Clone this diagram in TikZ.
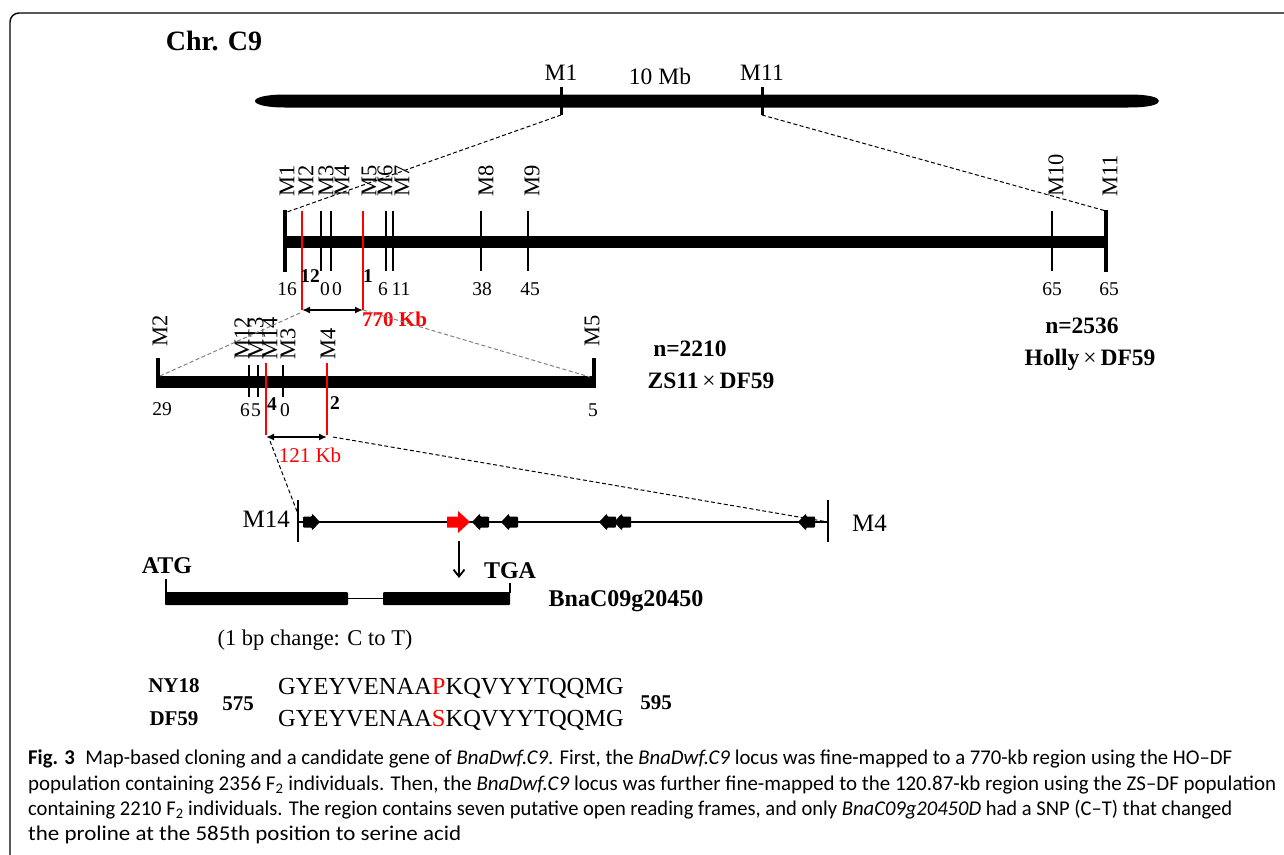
\documentclass[tikz,border=0pt]{standalone}
\usepackage{fontspec}
\setmainfont{Liberation Serif}
\newfontfamily\capfont{Carlito}
\usetikzlibrary{arrows.meta}

\newcommand{\fs}[1]{\fontsize{#1}{#1}\selectfont}

% small open reading frame, pointing left
\tikzset{orf/.pic={
  \fill[rounded corners=1pt] (-9,0) -- (-1,-8.5) -- (-1,-5.5) -- (8,-5.5) -- (8,5.5) -- (-1,5.5) -- (-1,8.5) -- cycle;
}}

\begin{document}
\begin{tikzpicture}[x=1pt, y=-1pt,
  bar/.style={line width=11.5pt},
  tick/.style={line width=2.6pt},
  endtick/.style={line width=4pt},
  redtick/.style={draw=red, line width=2.6pt},
  mk/.style={font=\fs{22.5}, rotate=90, anchor=west, inner sep=0pt},
  cmval/.style={font=\fs{19.5}, inner sep=0pt},
  hit/.style={font=\fs{19.5}\bfseries, inner sep=0pt},
  zoomline/.style={dash pattern=on 4pt off 2.5pt, line width=1pt},
  span/.style={{Latex[length=8pt,width=7pt]}-{Latex[length=8pt,width=7pt]}, line width=2pt},
  lab/.style={font=\fs{23.5}, inner sep=0pt},
  blab/.style={font=\fs{23.5}\bfseries, inner sep=0pt},
  capline/.style={font=\capfont\fs{21}, anchor=base west, inner sep=0pt}
]
  \useasboundingbox (0,0) rectangle (1284,854);
  \clip (0,0) rectangle (1284,854);
  \draw[line width=1.4pt, rounded corners=9pt] (10,13) rectangle (1300,866);

  % chromosome C9
  \node[font=\fs{28}\bfseries, inner sep=0pt] (chr) at (214,41) {Chr. C9};
  \fill (285,94.5) -- (1128,94.5) .. controls (1150,94.5) and (1159,97.5) .. (1159,101)
    .. controls (1159,104.5) and (1150,107.5) .. (1128,107.5) -- (285,107.5)
    .. controls (266,107.5) and (255,104.5) .. (255,101)
    .. controls (255,97.5) and (266,94.5) .. (285,94.5) -- cycle;
  \draw[line width=3pt] (561,87) -- (561,115);
  \draw[line width=3pt] (762,87) -- (762,115);
  \node[lab] (tM1) at (561,73) {M1};
  \node[lab] (tMb) at (660,76) {10 Mb};
  \node[lab] (tM11) at (762,73) {M11};
  \coordinate (chrM1) at (561,115);
  \coordinate (chrM11) at (762,115);

  % Holly x DF59 map
  \draw[bar] (285,242) -- (1106,242);
  \foreach \x in {321,331,386,393,481,528,1052}
    \draw[tick] (\x,211) -- (\x,271);
  \foreach \x in {285,1106}
    \draw[endtick] (\x,210) -- (\x,272);
  \draw[redtick] (302,211) -- (302,310);
  \draw[redtick] (363,211) -- (363,310);
  \foreach \m/\x in {1/287,2/306,3/326,4/342,5/369,6/385,7/402,8/486,9/532,10/1056,11/1110}
    \node[mk] (ho\m) at (\x,197) {M\m};
  \node[cmval] (h16) at (287,289) {16};
  \node[cmval] (h0a) at (325,289) {0};
  \node[cmval] (h0b) at (337,289) {0};
  \node[cmval] (h6) at (383,289) {6};
  \node[cmval] (h11) at (401,289) {11};
  \node[cmval] (h38) at (482,289) {38};
  \node[cmval] (h45) at (530,289) {45};
  \node[cmval] (h65a) at (1052,289) {65};
  \node[cmval] (h65b) at (1109,289) {65};
  \node[hit] (r12) at (310,276) {12};
  \node[hit] (r1) at (368,276) {1};
  \coordinate (hoM1) at (287,212);
  \coordinate (hoM11) at (1106,211);
  \coordinate (hoA) at (302,310);
  \coordinate (hoB) at (363,310);
  \draw[span] (hoA) -- (hoB);
  \node[font=\fs{21}\bfseries, text=red, anchor=west, inner sep=0pt] (kb770) at (362,319) {770 Kb};
  \node[blab] (n2536) at (1082,326) {n=2536};
  \node[blab] (holly) at (1090,360) {Holly\,{\mdseries ×}\,DF59};
  \draw[zoomline] (chrM1) -- (hoM1);
  \draw[zoomline] (chrM11) -- (hoM11);

  % ZS11 x DF59 map
  \draw[bar] (158,382) -- (594,382);
  \foreach \x in {158,594}
    \draw[endtick] (\x,358) -- (\x,388);
  \foreach \x in {249,258,283}
    \draw[tick] (\x,365) -- (\x,397);
  \draw[redtick] (266,363) -- (266,435);
  \draw[redtick] (327,363) -- (327,435);
  \node[mk] (zsM2) at (160,347) {M2};
  \node[mk] (zsM5) at (592,347) {M5};
  \foreach \m/\x in {12/242,13/256,14/270,3/288,4/328}
    \node[mk] (zs\m) at (\x,360) {M\m};
  \node[cmval] (z29) at (162,409) {29};
  \node[cmval] (z6) at (245,410) {6};
  \node[cmval] (z5a) at (256,410) {5};
  \node[hit] (r4) at (272,404) {4};
  \node[cmval] (z0) at (285,410) {0};
  \node[hit] (r2) at (335,403) {2};
  \node[cmval] (z5b) at (593,410) {5};
  \coordinate (zsA) at (266,437);
  \coordinate (zsB) at (327,437);
  \draw[span] (zsA) -- (zsB);
  \node[font=\fs{21}, text=red, inner sep=0pt] (kb121) at (310,455) {121 Kb};
  \node[blab] (n2210) at (690,349) {n=2210};
  \node[blab] (zs11) at (711,381) {ZS11\,{\mdseries ×}\,DF59};
  \coordinate (hoC) at (300,313);
  \coordinate (zsL) at (160,376);
  \coordinate (zsR) at (590,377);
  \draw[zoomline, gray] (hoC) -- (zsL);
  \draw[zoomline, gray] (hoB) -- (zsR);

  % candidate region
  \draw[line width=2.5pt] (298,522) -- (828,522);
  \draw[line width=2.5pt] (298,500) -- (298,542);
  \draw[line width=2.5pt] (828,500) -- (828,542);
  \node[font=\fs{25}, anchor=east, inner sep=0pt] (gM14) at (290,519) {M14};
  \node[font=\fs{25}, anchor=west, inner sep=0pt] (gM4) at (852,523) {M4};
  \pic[xscale=-1] at (311,522) {orf};
  \foreach \x in {481,510,608,623,807}
    \pic at (\x,522) {orf};
  \fill[red] (447,516.5) -- (458,516.5) -- (458,511) -- (470,522) -- (458,533) -- (458,527.5) -- (447,527.5) -- cycle;
  \coordinate (zsC) at (270,441);
  \coordinate (zsD) at (333,437);
  \coordinate (orfL) at (298,514);
  \coordinate (orfR) at (828,522);
  \draw[zoomline] (zsC) -- (orfL);
  \draw[zoomline] (zsD) -- (orfR);

  % gene model
  \coordinate (pick) at (459,541);
  \coordinate (gene) at (459,578);
  \draw[-{Straight Barb[length=7pt,width=11pt]}, line width=1.8pt] (pick) -- (gene);
  \fill[rounded corners=1pt] (165,592) rectangle (348,605);
  \draw[line width=1.5pt] (348,598.5) -- (383,598.5);
  \fill[rounded corners=1pt] (383,592) rectangle (510,605);
  \draw[line width=1.5pt] (166,579) -- (166,593);
  \draw[line width=1.5pt] (510,583) -- (510,593);
  \node[font=\fs{24}\bfseries, inner sep=0pt] (atg) at (167,566) {ATG};
  \node[font=\fs{24}\bfseries, inner sep=0pt] (tga) at (510,571) {TGA};
  \node[font=\fs{24}\bfseries, inner sep=0pt] (gname) at (626,601) {BnaC09g20450};
  \node[font=\fs{22.5}, inner sep=0pt] (snp) at (315,640) {(1 bp change: C to T)};

  % protein sequences
  \node[font=\fs{21}\bfseries, inner sep=0pt] (ny18) at (174,686) {NY18};
  \node[font=\fs{21}\bfseries, inner sep=0pt] (df59) at (174,719) {DF59};
  \node[font=\fs{21}\bfseries, inner sep=0pt] (p575) at (238,704) {575};
  \node[font=\fs{21}\bfseries, inner sep=0pt] (p595) at (656,703) {595};
  \node[font=\fs{24.5}, anchor=west, inner sep=0pt] (seqA) at (278,688) {GYEYVENAA\textcolor{red}{P}KQVYYTQQMG};
  \node[font=\fs{24.5}, anchor=west, inner sep=0pt] (seqB) at (278,720) {GYEYVENAA\textcolor{red}{S}KQVYYTQQMG};

  % caption
  \node[capline] (cap1) at (28,764) {\resizebox{1204pt}{\height}{\textbf{Fig. 3}\enspace Map-based cloning and a candidate gene of \textit{BnaDwf.C9}. First, the \textit{BnaDwf.C9} locus was fine-mapped to a 770-kb region using the HO–DF}};
  \node[capline] (cap2) at (28,790) {\resizebox{1248pt}{\height}{population containing 2356 F\textsubscript{2} individuals. Then, the \textit{BnaDwf.C9} locus was further fine-mapped to the 120.87-kb region using the ZS–DF population}};
  \node[capline] (cap3) at (28,815) {\resizebox{1204pt}{\height}{containing 2210 F\textsubscript{2} individuals. The region contains seven putative open reading frames, and only \textit{BnaC09g20450D} had a SNP (C–T) that changed}};
  \node[capline] (cap4) at (28,840) {\resizebox{433pt}{\height}{the proline at the 585th position to serine acid}};
\end{tikzpicture}
\end{document}
